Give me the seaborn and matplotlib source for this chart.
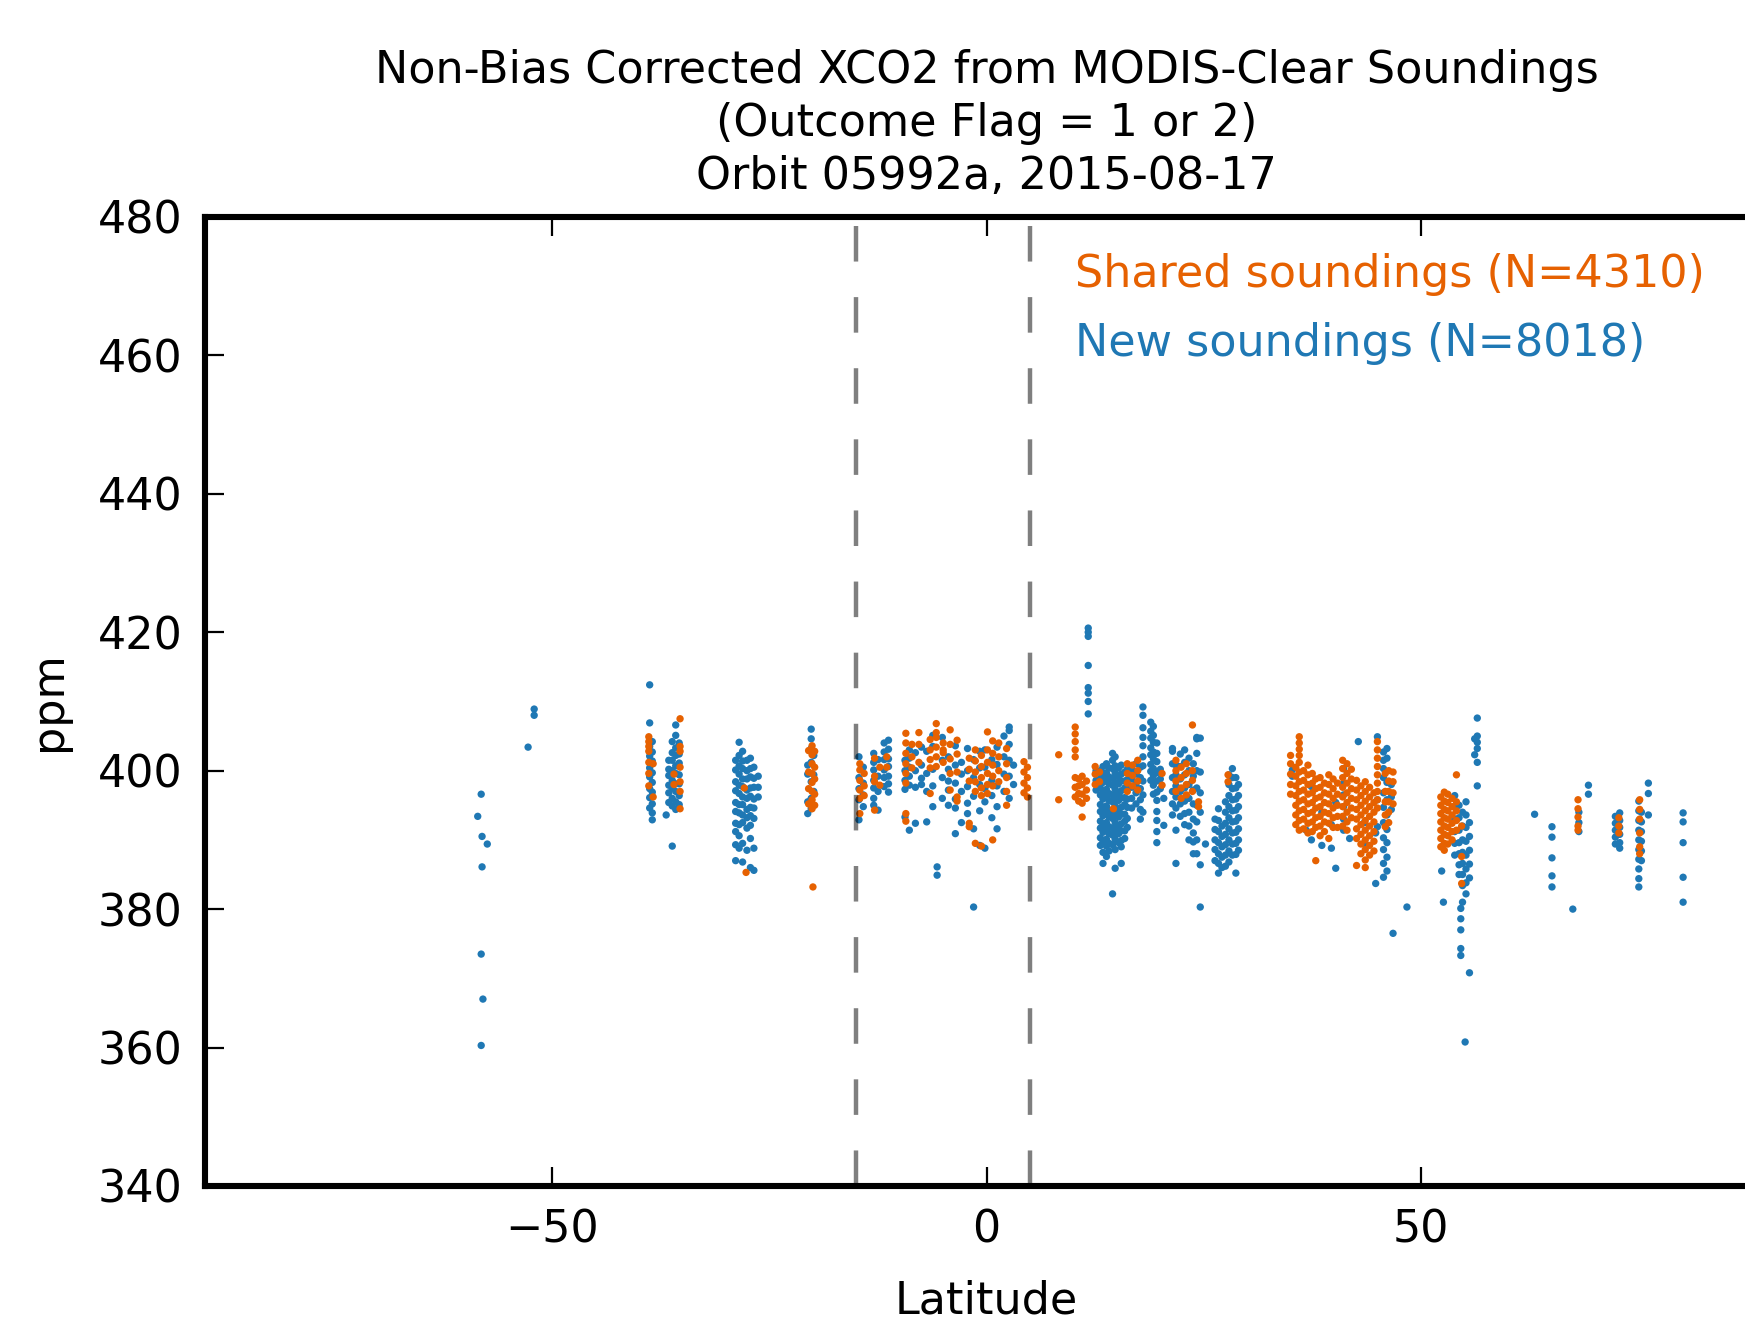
import numpy as np
import pandas as pd
import matplotlib
matplotlib.use("Agg")
import matplotlib.pyplot as plt
import seaborn as sns

sns.set_style("ticks")
plt.rcParams["font.family"] = ["DejaVu Sans"]
plt.rcParams.update({
    "text.color": "black", "axes.labelcolor": "black", "axes.edgecolor": "black",
    "xtick.color": "black", "ytick.color": "black",
})

# data: (latitude, [ppm values]) columns per track

new_south = [
    (-58.6, [393.4]), (-58.2, [396.6, 373.5, 360.3]), (-58.1, [390.5, 386.1]),
    (-57.5, [389.4]), (-58.0, [367.0]),
    (-52.8, [403.4]), (-52.1, [408.9, 408.0]),
    (-38.8, [412.4, 406.9, 403.5, 402.1, 400.4, 399.1, 397.4, 396.1, 394.6]),
    (-38.5, [404.2, 402.7, 401.4, 399.7, 398.3, 396.9, 395.2, 393.9, 392.9]),
    (-36.9, [393.6]),
    (-36.6, [401.5, 400.2, 399.3, 397.9, 396.8, 395.4]),
    (-36.2, [404.2, 402.6, 401.5, 400.0, 398.6, 397.5, 396.0, 394.9, 389.1]),
    (-35.8, [406.6, 405.1, 403.3, 402.2, 400.7, 399.6, 398.1, 397.0, 395.5, 394.4]),
    (-35.4, [404.0, 402.4, 401.1, 399.4, 398.1, 396.4, 395.1]),
    (-28.9, [401.5, 400.1, 398.4, 397.1, 395.4, 394.1, 392.4, 391.2, 389.3, 387.0]),
    (-28.5, [404.1, 402.2, 400.7, 399.5, 397.9, 396.7, 395.1, 393.9, 392.2, 390.6, 388.8]),
    (-28.1, [402.8, 401.4, 400.3, 398.8, 397.7, 396.2, 395.1, 393.6, 392.5, 389.5, 386.8]),
    (-27.6, [401.5, 400.0, 398.8, 397.2, 396.0, 394.4, 393.2, 391.7, 388.5]),
    (-27.2, [401.8, 400.3, 399.1, 397.5, 396.3, 394.7, 393.5, 392.1, 390.2, 386.0]),
    (-26.8, [400.5, 398.9, 397.6, 395.9, 394.6, 393.1, 388.8, 385.6]),
    (-26.3, [399.2, 397.6, 396.2]),
    (-20.6, [400.8, 399.5, 395.5, 393.8]),
    (-20.2, [406.0, 404.6, 403.2, 401.2, 398.4, 396.0, 394.5]),
    (-19.9, [402.2, 399.4, 397.0]),
]

new_tropics = [
    (-14.7, [402.0, 399.0, 397.4, 395.8, 392.9]),
    (-14.2, [400.5, 398.2, 396.5, 394.8]),
    (-13.0, [402.5, 401.2, 400.1, 398.6, 397.5, 396.0, 395.0]),
    (-12.5, [401.6, 399.2, 397.0, 394.3]),
    (-11.8, [404.0, 402.7, 401.6, 400.1, 399.0, 397.7]),
    (-11.3, [404.4, 403.1, 401.7, 400.6, 399.2, 398.1, 396.9]),
    (-9.4, [401.5, 400.0, 398.6, 397.3, 393.3]),
    (-8.9, [403.0, 401.8, 400.5, 399.2, 397.9, 391.4]),
    (-8.2, [402.6, 400.0, 397.6, 392.4]),
    (-7.5, [403.4, 400.8, 398.9, 398.0]),
    (-6.9, [402.8, 399.6, 397.0, 392.6]),
    (-6.2, [405.1, 403.5, 400.2, 397.8, 394.8]),
    (-5.7, [386.1, 384.9]),
    (-5.1, [404.8, 401.5, 399.0, 396.0]),
    (-4.4, [402.0, 400.2, 398.5, 397.2, 395.0]),
    (-3.6, [403.6, 400.8, 398.2, 395.9, 394.6, 390.9]),
    (-2.9, [401.2, 399.5, 397.0, 392.5]),
    (-2.2, [403.2, 400.0, 397.7, 395.3, 393.8]),
    (-1.5, [401.6, 399.0, 396.3, 391.6, 380.3]),
    (-0.8, [402.8, 400.4, 398.0, 394.2, 389.2]),
    (-0.2, [403.0, 400.5, 397.4, 395.5, 388.8]),
    (0.6, [401.6, 398.6, 396.4, 393.2]),
    (1.2, [403.4, 400.9, 397.8, 394.8, 391.6]),
    (2.0, [405.0, 402.0, 399.5, 397.0]),
    (2.6, [406.3, 405.8, 403.8, 401.5, 399.2, 396.0]),
    (3.1, [400.8, 398.0]),
]

new_north = [
    (11.7, [420.6, 420.0, 419.4, 415.2, 412.0, 411.2, 410.0, 408.2]),
    (12.6, [400.0, 398.6, 397.2]),
    (13.1, [400.0, 398.9, 397.5, 396.5, 395.1, 394.1, 392.7, 391.7, 390.3, 389.2]),
    (13.4, [400.6, 399.3, 398.3, 396.9, 395.9, 394.5, 393.5, 392.1, 391.1, 389.7, 388.2, 386.6]),
    (13.8, [401.0, 399.7, 398.7, 397.3, 396.3, 394.9, 393.9, 392.5, 391.5, 390.1, 389.1, 387.6]),
    (14.1, [400.4, 399.1, 398.1, 396.7, 395.7, 394.3, 393.3, 391.9, 390.9, 389.5, 388.4]),
    (14.5, [402.5, 401.5, 400.3, 398.9, 397.9, 396.5, 395.5, 394.1, 393.1, 391.7, 390.7, 389.3, 382.2]),
    (14.8, [402.0, 400.7, 399.7, 398.3, 397.3, 395.9, 394.9, 393.5, 392.5, 391.1, 390.1, 388.6, 385.9]),
    (15.2, [400.4, 399.1, 398.1, 396.7, 395.7, 394.3, 393.3, 391.9, 390.9, 389.6]),
    (15.5, [400.8, 399.5, 398.5, 397.1, 396.1, 394.7, 393.7, 392.3, 391.3, 389.9, 389.0, 386.6]),
    (15.9, [399.8, 398.5, 397.5, 396.1, 395.1, 393.7, 392.7, 391.3, 390.2]),
    (16.2, [400.2, 398.7, 397.5, 395.9, 394.7, 393.1, 391.8]),
    (16.7, [400.2, 398.8, 397.6, 396.0, 394.6]),
    (17.2, [401.0, 399.5, 398.1, 396.8, 395.2]),
    (17.7, [400.5, 399.0, 397.4, 395.8, 394.4, 393.0]),
    (18.0, [409.2, 408.0, 406.2, 404.8, 403.6, 402.0, 400.7, 398.5, 396.5, 394.0]),
    (18.9, [407.0, 405.7, 404.7, 403.3, 402.3, 400.9, 399.9, 398.6]),
    (19.2, [406.4, 405.1, 404.1, 402.7, 401.7, 400.3, 399.3, 397.9, 396.6]),
    (19.6, [404.0, 402.5, 401.3, 399.7, 398.5, 396.9, 395.7, 394.1, 392.8, 391.2, 389.6]),
    (20.0, [400.2, 398.8, 397.4]),
    (20.4, [396.0, 392.1]),
    (21.4, [403.2, 402.8, 401.0, 399.0, 397.0, 395.2, 393.6]),
    (21.8, [400.8, 399.4, 397.8, 396.2, 394.6, 391.4, 386.6]),
    (22.3, [402.4, 400.6, 398.8, 397.0, 395.2, 393.4]),
    (22.8, [403.0, 401.2, 399.4, 397.5, 395.6, 393.8, 392.2]),
    (23.3, [401.8, 400.0, 398.0, 396.0, 394.0, 392.0, 390.0]),
    (23.8, [401.0, 399.2, 397.2, 395.2, 393.0, 391.0, 389.7, 388.0]),
    (24.2, [404.8, 404.6, 402.5, 400.0, 397.5, 395.0, 392.6, 390.0, 388.0]),
    (24.6, [404.7, 399.8, 396.8, 394.0, 386.4, 380.3]),
    (25.2, [389.4]),
    (26.3, [393.0, 391.5, 390.0, 388.6, 387.0]),
    (26.7, [394.5, 392.8, 391.2, 389.6, 388.0, 386.6, 385.2]),
    (27.1, [392.0, 390.5, 389.0, 387.5, 386.0]),
    (27.5, [395.5, 394.0, 392.4, 390.8, 389.3, 387.8, 386.2]),
    (27.9, [399.4, 398.0, 396.4, 394.8, 393.2, 391.6, 390.0, 388.4, 386.8]),
    (28.3, [400.3, 399.0, 397.4, 395.8, 394.2, 392.6, 391.0, 389.4, 387.8]),
    (28.7, [399.0, 397.5, 395.9, 394.3, 392.7, 391.1, 389.5, 387.9, 385.2]),
    (29.0, [398.0, 396.4, 394.8, 393.2, 391.6, 390.0, 388.5]),
]

new_mid = [
    (35.2, [400.1, 399.2]), (36.8, [391.4]), (37.4, [390.0, 397.7]),
    (38.6, [389.2, 394.0]), (39.7, [388.8, 392.2]), (40.2, [385.9, 395.4]),
    (41.1, [400.3, 398.2, 396.5, 394.8, 393.0, 391.4]),
    (41.8, [390.2]), (42.8, [404.2]), (43.5, [392.5, 389.5]),
    (44.8, [383.7, 391.0]), (45.0, [404.9, 395.8, 391.9]),
    (45.7, [402.7, 401.5, 400.3, 399.0, 396.8, 394.7, 392.5, 390.3, 388.6, 386.6, 384.6]),
    (46.1, [403.2, 401.8, 398.3, 395.8, 393.6, 391.5, 389.6, 387.5, 385.5]),
    (46.6, [398.0, 396.2, 394.4]), (46.8, [376.5]), (48.4, [380.3]),
    (52.4, [385.5, 389.0]), (52.6, [381.0]),
    (53.9, [396.4, 394.8, 393.0, 391.2, 389.5, 387.8]),
    (54.4, [395.0, 393.2, 391.4, 389.6, 388.0, 386.4, 385.0]),
    (54.6, [380.1, 378.6, 377.0, 374.3, 373.3]),
    (54.8, [394.0, 392.0, 390.0, 388.2, 386.6, 385.0, 383.4, 381.0]),
    (55.1, [360.8]),
    (55.2, [395.5, 393.6, 391.8, 389.8, 387.8, 385.8, 383.8, 382.2]),
    (55.6, [392.5, 390.5, 388.5, 386.5, 384.5, 370.8]),
    (56.2, [404.6, 402.3]),
    (56.5, [407.6, 405.0, 404.1, 403.2, 401.2, 397.8]),
]

new_arctic = [
    (63.1, [393.7]),
    (65.1, [391.9, 390.4, 387.4, 384.8, 383.2]),
    (67.5, [380.0]),
    (68.2, [394.0, 392.5, 391.2]),
    (69.3, [397.9, 396.6]),
    (72.4, [393.4, 392.4, 391.4, 390.4, 389.4]),
    (72.9, [393.9, 392.8, 391.8, 390.8, 389.6, 388.8]),
    (75.1, [395.6, 394.2, 392.8, 391.4, 390.0, 388.6, 387.2, 385.8, 384.4, 383.2]),
    (75.4, [394.0, 392.6, 391.2, 389.8, 388.4, 387.0]),
    (76.2, [398.2, 396.7, 393.6]),
    (80.2, [393.9, 392.6, 389.6, 384.6, 381.0]),
]

shared_south = [
    (-38.9, [404.9, 404.2, 403.5, 402.8, 401.2, 399.6, 397.8]),
    (-38.4, [401.0, 396.2]),
    (-35.3, [407.5, 403.5, 402.8, 400.5, 398.4, 397.0, 394.5]),
    (-36.0, [399.5, 398.0]),
    (-27.9, [397.5]), (-27.7, [385.3]),
    (-20.5, [402.9, 399.8, 397.4, 395.2]),
    (-20.1, [403.6, 402.3, 401.0, 399.6, 398.3, 397.0, 395.8, 394.5]),
    (-19.8, [402.8, 400.5, 398.8, 396.6, 395.0]),
    (-20.0, [383.2]),
]

shared_tropics = [
    (-14.6, [401.0, 400.1, 398.6, 397.2, 396.0, 393.8]),
    (-14.1, [399.6, 397.8, 396.4]),
    (-12.9, [401.8, 399.2, 398.4, 394.3]),
    (-12.3, [400.5, 397.9]),
    (-11.5, [402.0, 400.5]),
    (-9.3, [405.4, 404.0, 402.5, 401.0, 399.6, 398.2, 393.8, 392.7]),
    (-8.6, [403.8, 402.0, 400.4]),
    (-7.8, [405.5, 403.8, 401.2]),
    (-6.5, [404.5, 403.0, 401.6, 400.4, 396.7]),
    (-5.8, [406.8, 405.5, 404.8, 403.4, 402.0, 400.6]),
    (-5.0, [404.0, 403.0, 402.6, 401.2]),
    (-4.2, [405.9, 403.8, 401.7, 399.6, 397.2]),
    (-3.4, [404.4, 402.4, 399.8, 396.2, 395.6]),
    (-2.0, [401.8, 400.2, 398.5, 392.4, 391.9]),
    (-1.3, [403.0, 401.4, 399.8, 398.4, 397.0, 389.5]),
    (-0.6, [402.2, 400.6, 399.0, 397.5, 396.4, 389.1]),
    (0.1, [405.6, 403.0, 401.2, 399.6, 398.0, 396.7]),
    (0.7, [404.3, 402.5, 400.8, 399.2, 397.8, 390.0]),
    (1.4, [404.0, 402.0, 400.0, 398.4]),
    (2.3, [403.2, 401.0, 399.0, 397.0, 395.0]),
    (4.3, [401.3, 399.8, 398.2, 396.8]),
    (4.7, [400.5, 399.0, 397.5, 396.2]),
]

shared_north = [
    (8.3, [402.3, 395.8]),
    (10.2, [406.3, 405.3, 404.2, 403.0, 402.0, 399.0, 397.6, 396.2]),
    (10.6, [398.8, 397.8, 396.7, 395.6]),
    (11.0, [399.2, 398.0, 396.6, 395.3, 393.3]),
    (11.5, [398.5, 397.2, 396.0]),
    (12.5, [400.6, 399.5, 398.0]),
    (13.0, [399.8, 398.4]),
    (14.6, [394.5]),
    (16.2, [401.0, 399.6, 398.2, 397.0]),
    (16.8, [400.8, 399.3, 397.8]),
    (17.4, [401.5, 400.0, 398.5, 397.2]),
    (20.2, [399.6, 397.9]),
    (21.8, [401.5, 400.0, 398.5, 397.0]),
    (22.4, [400.5, 399.0, 397.5, 396.0]),
    (23.0, [401.0, 399.6, 398.0, 396.5]),
    (23.7, [406.6, 400.0, 398.6, 397.0]),
    (24.4, [395.5, 394.8]),
    (27.8, [399.4, 398.4]),
]

shared_mid = [
    (35.0, [402.2, 401.0, 399.5, 398.0, 396.6]),
    (35.6, [400.5, 399.2, 397.8, 396.4, 395.0, 393.6, 392.2]),
    (36.0, [404.9, 404.0, 403.1, 402.2, 401.2, 399.8, 398.4, 397.0, 395.6, 394.2, 392.8, 391.4]),
    (36.5, [400.0, 398.6, 397.2, 395.8, 394.4, 393.0, 391.6]),
    (37.0, [400.8, 399.4, 398.0, 396.6, 395.2, 393.8, 392.4, 391.0]),
    (37.5, [399.6, 398.2, 396.8, 395.4, 394.0, 392.6, 391.2]),
    (37.9, [398.8, 397.4, 396.0, 394.6, 393.2, 391.8, 387.0]),
    (38.4, [399.0, 397.6, 396.2, 394.8, 393.4, 392.0, 390.6]),
    (38.9, [398.2, 396.8, 395.4, 394.0, 392.6, 391.2]),
    (39.4, [399.4, 398.0, 396.6, 395.2, 393.8, 392.4, 390.2]),
    (39.9, [398.8, 397.4, 396.0, 394.6, 393.2, 391.8]),
    (40.4, [398.2, 396.6, 395.0, 393.4, 391.8]),
    (41.0, [401.5, 400.3, 399.0, 397.6, 396.2, 394.8, 393.4, 392.0]),
    (41.5, [401.0, 399.6, 398.2, 396.8, 395.4, 394.0, 392.6, 391.4]),
    (42.0, [400.2, 398.8, 397.4, 396.0, 394.6, 393.2]),
    (42.6, [398.6, 397.2, 395.8, 394.4, 393.0, 391.6, 390.2, 386.3]),
    (43.1, [397.8, 396.4, 395.0, 393.6, 392.2, 390.8, 389.4, 388.0]),
    (43.6, [398.4, 397.0, 395.6, 394.2, 392.8, 391.4, 390.0, 388.6, 387.1, 386.0]),
    (44.1, [397.6, 396.2, 394.8, 393.4, 392.0, 390.6, 389.2, 387.8]),
    (44.6, [396.8, 395.4, 394.0, 392.6, 391.2, 389.8, 388.4]),
    (45.0, [404.2, 403.0, 401.8, 400.6, 399.4, 398.2, 397.0, 395.8, 394.6]),
    (45.9, [399.6, 397.0, 395.5, 393.6, 391.9]),
    (46.3, [400.0, 398.5, 397.0, 395.5, 394.0, 392.5]),
    (46.8, [399.8, 398.4, 396.8, 395.2]),
    (52.3, [396.2, 395.0, 393.8, 392.6, 391.4, 390.2, 389.0]),
    (52.7, [396.9, 395.6, 394.4, 393.2, 392.0, 390.8, 389.5, 388.5]),
    (53.1, [396.6, 395.4, 394.2, 393.0, 391.8, 390.6, 389.4]),
    (53.6, [396.0, 394.8, 393.6, 392.4, 391.2, 390.0]),
    (54.1, [399.4, 395.5, 394.2, 392.8, 391.4]),
    (54.7, [392.0, 387.6, 383.7]),
]

shared_arctic = [
    (68.1, [395.8, 394.5, 393.3, 392.0, 391.4]),
    (72.8, [393.2, 392.0, 391.0]),
    (75.2, [395.8, 394.4, 393.0, 391.0, 389.0, 388.0]),
]

n_shared = 4310
n_new = 8018


def flatten(columns, label):
    rows = [(lat, p, label) for lat, vals in columns for p in vals]
    return pd.DataFrame(rows, columns=["lat", "ppm", "group"])


new_df = pd.concat([flatten(c, "new") for c in
                    [new_south, new_tropics, new_north, new_mid, new_arctic]])
shared_df = pd.concat([flatten(c, "shared") for c in
                       [shared_south, shared_tropics, shared_north, shared_mid, shared_arctic]])
df = pd.concat([new_df, shared_df], ignore_index=True)

orange = "#e66101"
blue = "#1f78b4"

fig = plt.figure(figsize=(8.725, 6.61), dpi=200)
ax = fig.add_axes([0.1175, 0.1029, 0.8958, 0.733])

sns.scatterplot(
    data=df, x="lat", y="ppm", hue="group",
    palette={"new": blue, "shared": orange},
    s=7, linewidth=0, legend=False, ax=ax
)

for xv in [-15, 5]:
    ax.axvline(xv, color="k", alpha=0.5, lw=1.6, linestyle=(0, (8, 8)))

ax.set_xlim(-90, 90)
ax.set_ylim(340, 480)
ax.set_xticks([-50, 0, 50])
ax.set_yticks(np.arange(340, 481, 20))
ax.tick_params(direction="in", length=7, width=0.8, top=True, right=True,
               labelsize=16, pad=8)
for sp in ax.spines.values():
    sp.set_linewidth(2.2)

ax.set_title("Non-Bias Corrected XCO2 from MODIS-Clear Soundings\n"
             "(Outcome Flag = 1 or 2)\nOrbit 05992a, 2015-08-17",
             fontsize=16, linespacing=1.3, pad=10)
ax.set_xlabel("Latitude", fontsize=16)
ax.set_ylabel("ppm", fontsize=16)
ax.xaxis.set_label_coords(0.5, -0.097)
ax.yaxis.set_label_coords(-0.0864, 0.5)

ax.text(0.5566, 0.928, f"Shared soundings (N={n_shared})", color=orange,
        fontsize=16, transform=ax.transAxes, va="baseline")
ax.text(0.5566, 0.857, f"New soundings (N={n_new})", color=blue,
        fontsize=16, transform=ax.transAxes, va="baseline")

plt.savefig("out.png", dpi=200)
